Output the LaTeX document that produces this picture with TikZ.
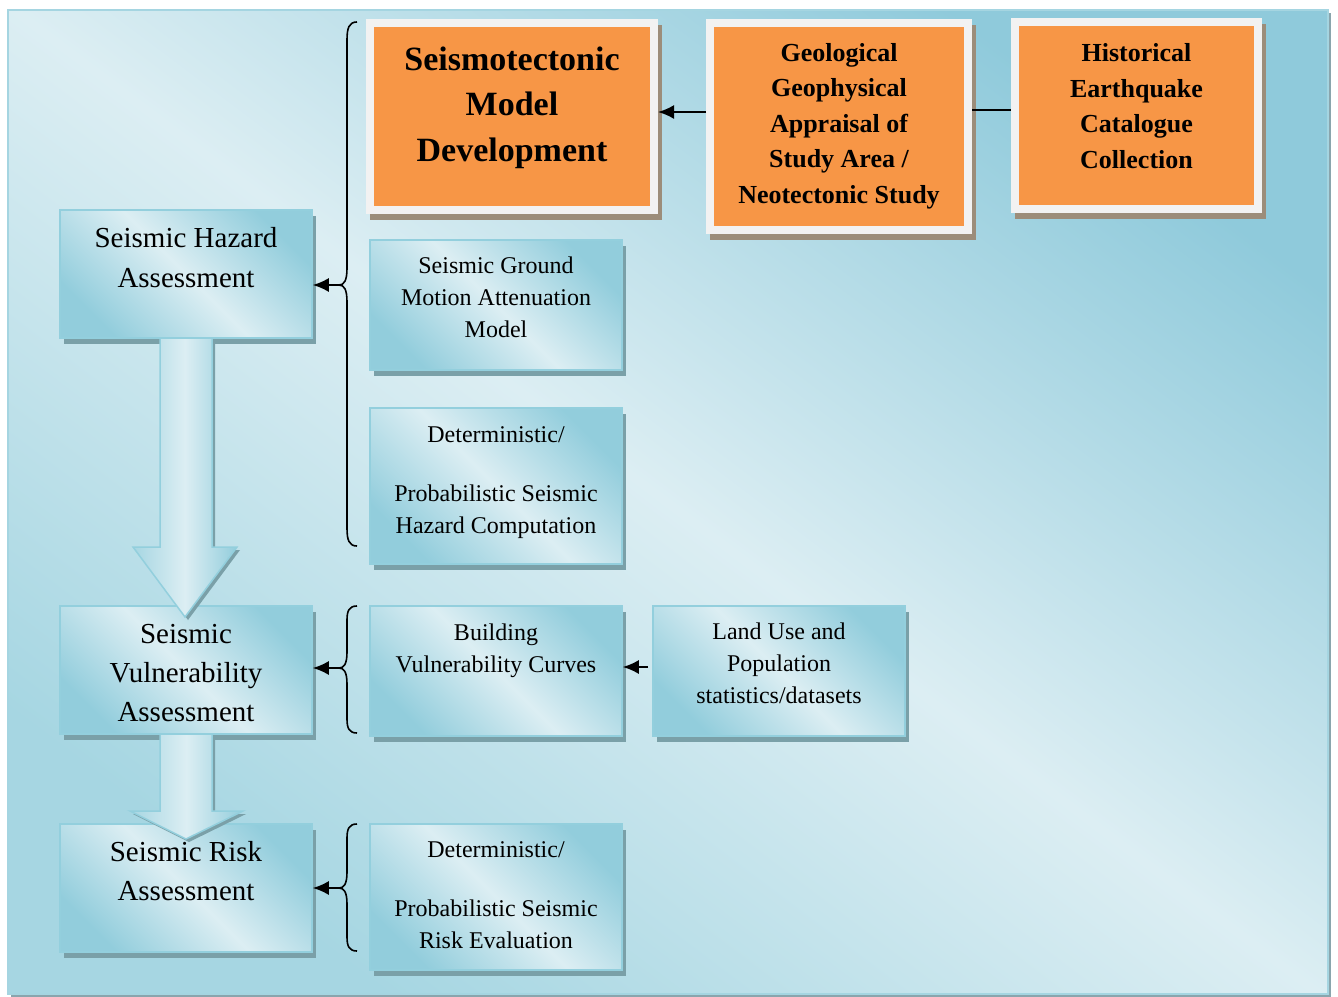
\documentclass[tikz,border=0pt]{standalone}
\usepackage{fontspec}
\setmainfont{Liberation Serif}
\usetikzlibrary{arrows.meta,shadows}
\definecolor{bgl}{HTML}{DCEEF3}
\definecolor{bgd}{HTML}{8FCADB}
\definecolor{bgm}{HTML}{A6D6E2}
\definecolor{bgb}{HTML}{A5D5E1}
\definecolor{bgs}{HTML}{8AA5AD}
\definecolor{bxl}{HTML}{DCEEF3}
\definecolor{bxd}{HTML}{92CDDC}
\definecolor{bxb}{HTML}{93CFDD}
\definecolor{bxs}{HTML}{7AA0A8}
\definecolor{org}{HTML}{F79646}
\definecolor{frm}{HTML}{F2F2F2}
\definecolor{osh}{HTML}{9C8D7A}
\tikzset{
  bluebox/.style={rectangle, draw=bxb, line width=1.5pt, inner sep=0pt,
    minimum width=252pt,
    top color=bxd, bottom color=bxd, middle color=bxl, shading angle=-45,
    general shadow={fill=bxs, shadow xshift=4pt, shadow yshift=-6pt}},
  obox/.style={rectangle, fill=org, draw=frm, line width=8pt, inner sep=0pt,
    general shadow={fill=osh, draw=osh, line width=8pt, shadow xshift=4pt, shadow yshift=-6pt}},
  btxt/.style={align=center, inner sep=0pt, font=\fontsize{29}{40}\selectfont},
  stxt/.style={align=center, inner sep=0pt, font=\fontsize{24}{32}\selectfont},
  otxt/.style={align=center, inner sep=0pt, font=\fontsize{26}{35.5}\selectfont\bfseries},
  conn/.style={line width=2pt, -{Latex[length=16pt,width=14pt]}},
  plain/.style={line width=2pt},
  bracepath/.style={line width=1.6pt},
  bigarrow/.style={draw=bxb, line width=1.5pt,
    left color=bgm, right color=bxd, middle color=bxl,
    general shadow={fill=bxs, shadow xshift=3pt, shadow yshift=-3pt}}
}
\begin{document}
\begin{tikzpicture}[x=1pt,y=-1pt]
\useasboundingbox (0,0) rectangle (1338,996);
% background panel
\fill[bgs] (11,13) rectangle (1331,997);
\shade[top color=bgd, bottom color=bgm, middle color=bgl, shading angle=-37]
  (8,10) rectangle (1328,994);
\draw[bgb, line width=1.5pt] (8,10) rectangle (1328,994);

% orange boxes
\node[obox, minimum width=284pt, minimum height=187pt] (smd) at (512,116.5) {};
\node[obox, minimum width=258pt, minimum height=207pt] (geo) at (839,126.5) {};
\node[obox, minimum width=243pt, minimum height=187pt] (hist) at (1136.5,115.5) {};
\node[otxt, font=\fontsize{34}{45.5}\selectfont\bfseries] (smdt) at (512,107.5) {Seismotectonic\\Model\\Development};
\node[otxt] (geot) at (839,126) {Geological\\Geophysical\\Appraisal of\\Study Area /\\Neotectonic Study};
\node[otxt] (histt) at (1136.5,106) {Historical\\Earthquake\\Catalogue\\Collection};

% left column
\node[bluebox, minimum height=128pt] (sha) at (186,274) {};
\node[bluebox, minimum height=128pt] (sva) at (186,670) {};
\node[bluebox, minimum height=128pt] (sra) at (186,888) {};
\node[btxt] (shat) at (186,258) {Seismic Hazard\\Assessment};
\node[btxt, font=\fontsize{29}{39}\selectfont] (svat) at (186,673) {Seismic\\Vulnerability\\Assessment};
\node[btxt, font=\fontsize{29}{39}\selectfont] (srat) at (186,871.5) {Seismic Risk\\Assessment};

% right column
\node[bluebox, minimum height=130pt] (gm) at (496,305) {};
\node[bluebox, minimum height=156pt] (psh) at (496,486) {};
\node[bluebox, minimum height=130pt] (bvc) at (496,671) {};
\node[bluebox, minimum height=130pt] (lup) at (779,671) {};
\node[bluebox, minimum height=146pt] (psr) at (496,897) {};
\node[stxt] (gmt) at (496,297) {Seismic Ground\\Motion Attenuation\\Model};
\node[stxt] (psht) at (496,482.5) {Deterministic/\\[27pt]Probabilistic Seismic\\Hazard Computation};
\node[stxt] (bvct) at (496,651) {Building\\Vulnerability Curves};
\node[stxt] (lupt) at (779,663.5) {Land Use and\\Population\\statistics/datasets};
\node[stxt] (psrt) at (496,895.5) {Deterministic/\\[27pt]Probabilistic Seismic\\Risk Evaluation};

% big arrows
\path[bigarrow] (160,338) -- (212,338) -- (212,547) -- (237,547) -- (185,617)
  -- (133,547) -- (160,547) -- cycle;
\path[bigarrow] (160,734) -- (212,734) -- (212,811) -- (243,811) -- (186,839)
  -- (130,811) -- (160,811) -- cycle;

% connectors top
\coordinate (ya) at (0,112);
\coordinate (yb) at (0,110);
\draw[conn] (geo.west |- ya) -- (smd.east |- ya);
\draw[plain] (geo.east |- yb) -- (hist.west |- yb);

% braces
\coordinate (b1) at (339,285);
\coordinate (b2) at (339,668);
\coordinate (b3) at (339,888);
\draw[bracepath] (357,22) .. controls (349,22) and (347,28) .. (347,40) -- (347,268)
  .. controls (347,281) and (344,285) .. (b1)
  .. controls (344,285) and (347,289) .. (347,302) -- (347,528)
  .. controls (347,540) and (349,546) .. (357,546);
\draw[bracepath] (357,606) .. controls (349,606) and (347,611) .. (347,620) -- (347,652)
  .. controls (347,664) and (344,668) .. (b2)
  .. controls (344,668) and (347,672) .. (347,684) -- (347,719)
  .. controls (347,728) and (349,733) .. (357,733);
\draw[bracepath] (357,824) .. controls (349,824) and (347,829) .. (347,838) -- (347,872)
  .. controls (347,884) and (344,888) .. (b3)
  .. controls (344,888) and (347,892) .. (347,904) -- (347,937)
  .. controls (347,946) and (349,951) .. (357,951);
\draw[conn] (b1) -- (sha.east |- b1);
\draw[conn] (b2) -- (sva.east |- b2);
\draw[conn] (b3) -- (sra.east |- b3);

% land use arrow
\coordinate (l1) at (648,667);
\draw[conn] (l1) -- (bvc.east |- l1);
\end{tikzpicture}
\end{document}
